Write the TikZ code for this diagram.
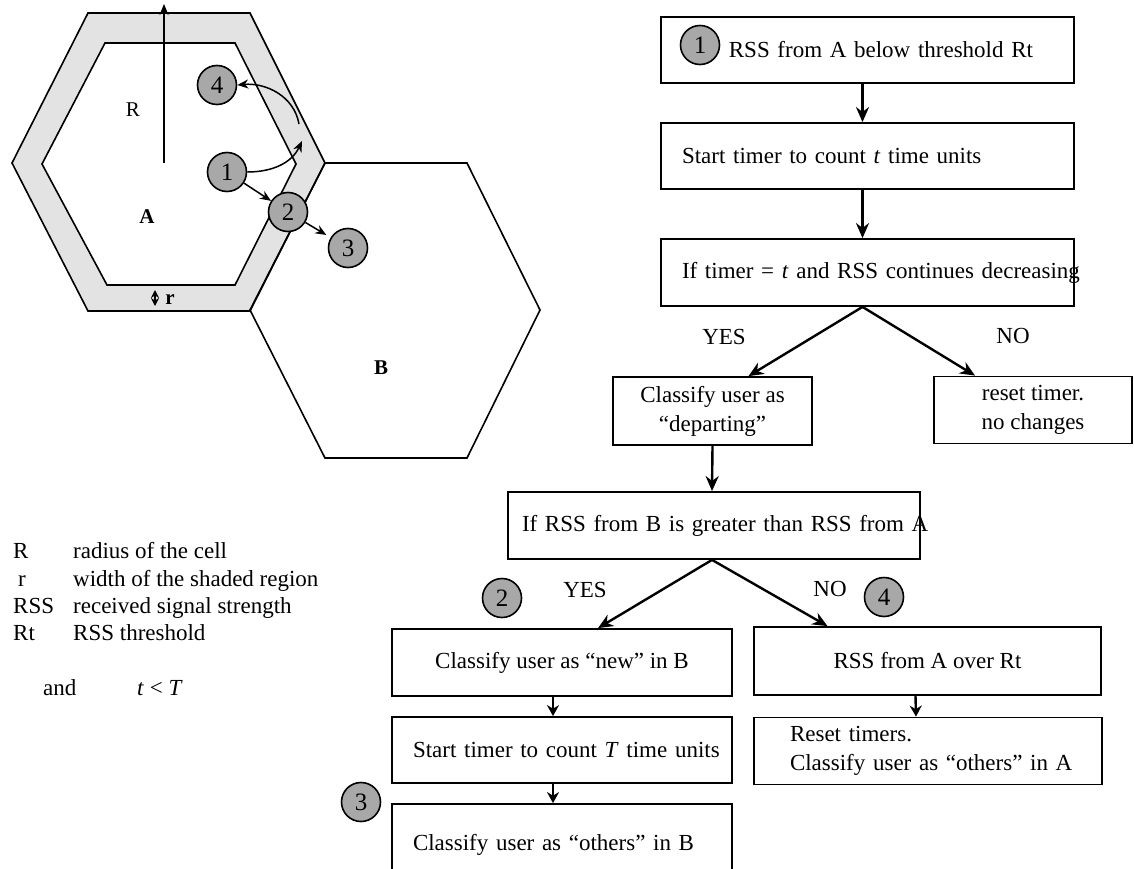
\documentclass[tikz,border=0pt]{standalone}
\usepackage{fontspec}
\setmainfont{Liberation Serif}
\usepackage{tikz}
\usetikzlibrary{arrows.meta, positioning, calc}
\newcommand{\hndfont}{\fontsize{23}{29}\selectfont}
\newcommand{\hndsmall}{\fontsize{21}{24}\selectfont}
\newcommand{\hnddigit}{\fontsize{25}{25}\selectfont}
\tikzset{
  hndbox/.style={draw, line width=1.8pt, font=\hndfont, inner ysep=0pt, align=center},
  hndleft/.style={hndbox, align=left, inner xsep=21pt},
  hndnum/.style={circle, draw, line width=1.6pt, fill=gray!68, minimum size=39pt,
                 inner sep=0pt, font=\hnddigit},
  hndflow/.style={line width=2.4pt, -{Stealth[length=15pt,width=13pt]}},
  hndstep/.style={line width=2.4pt, -{Stealth[length=11pt,width=12pt]}},
  hndmove/.style={line width=1.5pt, -{Stealth[length=11pt,width=9pt]}},
  hndcell/.style={line width=1.6pt},
  hndlbl/.style={font=\hndfont, inner sep=0pt, text height=15pt, text depth=5pt},
}

\begin{document}
\begin{tikzpicture}[x=1pt, y=-1pt]
\fill[white] (0,0) rectangle (1134,869);
\useasboundingbox (0,0) rectangle (1134,869);

% cells A and B
\fill[gray!22, even odd rule] (88,13) -- (250,13) -- (325,163) -- (250,311) -- (88,311) -- (12,163) -- cycle
  (105,43) -- (235,43) -- (296,164) -- (235,285) -- (107,285) -- (42,164) -- cycle;
\draw[hndcell] (88,13) -- (250,13) -- (325,163) -- (250,311) -- (88,311) -- (12,163) -- cycle;
\draw[hndcell] (105,43) -- (235,43) -- (296,164) -- (235,285) -- (107,285) -- (42,164) -- cycle;
\draw[hndcell] (325,163) -- (467,163) -- (540,310) -- (467,458) -- (325,458) -- (250,310) -- cycle;

\node[font=\hndsmall] (lR) at (133,110) {R};
\node[font=\hndsmall\bfseries] (lA) at (147,217) {A};
\node[font=\hndsmall\bfseries] (lB) at (381,368) {B};
\coordinate (ctrA) at (164,163);
\coordinate (topA) at (164,4);
\draw[hndmove] (ctrA) -- (topA);
\coordinate (rlo) at (155,306);
\coordinate (rhi) at (155,290);
\draw[line width=1.2pt, {Stealth[length=8pt,width=8pt]}-{Stealth[length=8pt,width=8pt]}] (rlo) -- (rhi);
\node[font=\hndsmall\bfseries] (lr) at (170,300) {r};

% users in the cells
\node[hndnum] (u4) at (217,85) {4};
\node[hndnum] (u1) at (227,172) {1};
\node[hndnum] (u2) at (288,212) {2};
\node[hndnum] (u3) at (348,248) {3};
\coordinate (edge) at (302,141);
\coordinate (turn) at (299,124);
\draw[hndmove] (u1) -- (u2);
\draw[hndmove, shorten >=5pt] (u2) -- (u3);
\draw[hndmove] (u1.east) to[out=0, in=245] (edge);
\draw[hndmove] (turn) to[out=100, in=5] (u4.east);

% legend
\node[hndlbl, anchor=west] (kR) at (13,553) {R};
\node[hndlbl, anchor=west] (kr) at (18,581) {r};
\node[hndlbl, anchor=west] (kRSS) at (13,608) {RSS};
\node[hndlbl, anchor=west] (kRt) at (13,635) {Rt};
\node[hndlbl, anchor=west] (dR) at (73,553) {radius of the cell};
\node[hndlbl, anchor=west] (dr) at (73,581) {width of the shaded region};
\node[hndlbl, anchor=west] (dRSS) at (73,608) {received signal strength};
\node[hndlbl, anchor=west] (dRt) at (73,635) {RSS threshold};
\node[hndlbl, anchor=west] (kand) at (43,690) {and};
\node[hndlbl, anchor=west] (ktT) at (137,690) {\textit{t} < \textit{T}};

% flow chart
\node[hndbox, minimum width=413pt, minimum height=66pt, text width=331pt, align=right, inner xsep=41pt]
  (below) at (867.5,50) {RSS from A below threshold Rt};
\node[hndleft, minimum width=413pt, minimum height=66pt, text width=371pt]
  (tmr) at (867.5,156) {\rlap{Start timer to count \textit{t} time units}};
\node[hndleft, minimum width=413pt, minimum height=67pt, text width=371pt]
  (dec) at (867.5,272.5) {\rlap{If timer = \textit{t} and RSS continues decreasing}};
\node[hndbox, minimum width=199pt, minimum height=68pt] (dep) at (712.5,411) {Classify user as\\``departing''};
\node[hndbox, minimum width=198pt, minimum height=67pt] (rst) at (1033,410) {reset timer.\\no changes};
\node[hndleft, minimum width=412pt, minimum height=67pt, text width=384pt, inner xsep=14pt]
  (grt) at (714,525.5) {\rlap{If RSS from B is greater than RSS from A}};
\node[hndbox, minimum width=340pt, minimum height=67pt] (newb) at (562,662.5) {Classify user as ``new'' in B};
\node[hndbox, minimum width=347pt, minimum height=68pt] (over) at (927.5,661) {RSS from A over Rt};
\node[hndleft, minimum width=340pt, minimum height=66pt, text width=298pt]
  (tmrT) at (562,750) {\rlap{Start timer to count \textit{T} time units}};
\node[hndleft, minimum width=348pt, minimum height=67pt, text width=276pt, inner xsep=36pt]
  (rsts) at (928,751) {\rlap{Reset timers.}\\\rlap{Classify user as ``others'' in A}};
\node[hndleft, minimum width=340pt, minimum height=82pt, text width=298pt]
  (oth) at (562,845) {\rlap{Classify user as ``others'' in B}};

\draw[hndflow] ([xshift=-5pt]below.south) -- ([xshift=-5pt]tmr.north);
\draw[hndflow] ([xshift=-5pt]tmr.south) -- ([xshift=-5pt]dec.north);
\draw[hndflow] ([xshift=-5pt]dec.south) -- ([xshift=36pt]dep.north);
\draw[hndflow] ([xshift=-5pt]dec.south) -- ([xshift=-58pt]rst.north);
\draw[hndflow] (dep.south) -- ([xshift=-2pt]grt.north);
\draw[hndflow] ([xshift=-2pt]grt.south) -- ([xshift=36pt]newb.north);
\draw[hndflow] ([xshift=-2pt]grt.south) -- ([xshift=-100pt]over.north);
\draw[hndstep] ([xshift=-9pt]newb.south) -- ([xshift=-9pt]tmrT.north);
\draw[hndstep] ([xshift=-9pt]tmrT.south) -- ([xshift=-9pt]oth.north);
\draw[hndstep] ([xshift=-12pt]over.south) -- ([xshift=-12pt]rsts.north);

\node[hndlbl] (yes1) at (724,339) {YES};
\node[hndlbl] (no1) at (1013,338) {NO};
\node[hndlbl] (yes2) at (585,592) {YES};
\node[hndlbl] (no2) at (830,591) {NO};

\node[hndnum] (s1) at (700,45) {1};
\node[hndnum] (s2) at (502,598) {2};
\node[hndnum] (s4) at (884,597) {4};
\node[hndnum] (s3) at (361,802) {3};
\end{tikzpicture}
\end{document}
